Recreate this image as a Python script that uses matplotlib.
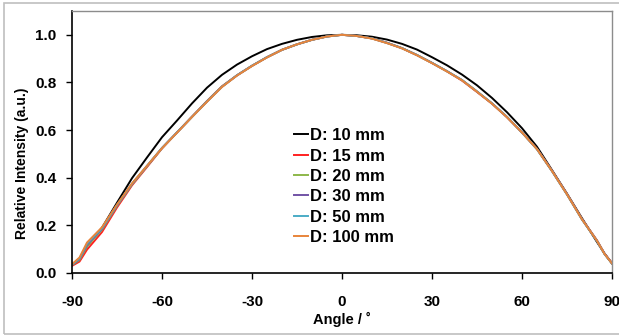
import numpy as np
import matplotlib.pyplot as plt
from matplotlib.patches import Rectangle

angle = [-90, -87.5, -85, -80, -75, -70, -65, -60, -55, -50, -45, -40, -35, -30, -25, -20, -15, -10, -5,
         0, 5, 10, 15, 20, 25, 30, 35, 40, 45, 50, 55, 60, 65, 70, 75, 80, 85, 87.5, 90]

d10 = [0.035, 0.060, 0.112, 0.190, 0.295, 0.398, 0.485, 0.570, 0.640, 0.712, 0.778, 0.832, 0.875, 0.910, 0.940,
       0.962, 0.979, 0.991, 0.998, 1.000, 0.998, 0.992, 0.980, 0.962, 0.938, 0.906, 0.872, 0.833, 0.788, 0.735,
       0.675, 0.608, 0.530, 0.432, 0.333, 0.230, 0.130, 0.082, 0.040]
d15 = [0.030, 0.048, 0.098, 0.172, 0.275, 0.368, 0.445, 0.523, 0.590, 0.656, 0.722, 0.784, 0.830, 0.870, 0.906,
       0.937, 0.960, 0.979, 0.993, 1.000, 0.995, 0.985, 0.967, 0.944, 0.915, 0.882, 0.847, 0.808, 0.760, 0.711,
       0.654, 0.590, 0.521, 0.430, 0.332, 0.227, 0.137, 0.082, 0.042]
d20 = [0.033, 0.055, 0.112, 0.182, 0.282, 0.372, 0.448, 0.524, 0.590, 0.656, 0.721, 0.783, 0.830, 0.870, 0.906,
       0.937, 0.960, 0.979, 0.993, 1.000, 0.995, 0.985, 0.966, 0.944, 0.915, 0.882, 0.847, 0.810, 0.762, 0.712,
       0.655, 0.590, 0.520, 0.428, 0.330, 0.225, 0.135, 0.080, 0.040]
d30 = [0.034, 0.058, 0.118, 0.185, 0.284, 0.374, 0.449, 0.525, 0.590, 0.656, 0.720, 0.782, 0.830, 0.870, 0.906,
       0.937, 0.960, 0.979, 0.993, 1.000, 0.995, 0.985, 0.966, 0.944, 0.915, 0.882, 0.847, 0.810, 0.762, 0.712,
       0.655, 0.590, 0.520, 0.428, 0.330, 0.225, 0.135, 0.080, 0.040]
d50 = [0.035, 0.061, 0.123, 0.188, 0.286, 0.375, 0.450, 0.525, 0.590, 0.655, 0.720, 0.782, 0.830, 0.870, 0.906,
       0.937, 0.960, 0.979, 0.993, 1.000, 0.995, 0.985, 0.966, 0.944, 0.915, 0.882, 0.847, 0.810, 0.762, 0.712,
       0.655, 0.590, 0.520, 0.428, 0.330, 0.225, 0.135, 0.080, 0.040]
d100 = [0.037, 0.065, 0.128, 0.192, 0.288, 0.376, 0.450, 0.524, 0.589, 0.655, 0.719, 0.781, 0.829, 0.869, 0.905,
        0.937, 0.960, 0.979, 0.993, 1.000, 0.995, 0.984, 0.965, 0.943, 0.914, 0.881, 0.846, 0.809, 0.761, 0.711,
        0.654, 0.590, 0.520, 0.428, 0.330, 0.225, 0.135, 0.080, 0.040]

labels = ['D: 10 mm', 'D: 15 mm', 'D: 20 mm', 'D: 30 mm', 'D: 50 mm', 'D: 100 mm']
colors = ['#000000', '#FF2020', '#8DB84A', '#7253A6', '#4BACC6', '#E8843A']
series = [d10, d15, d20, d30, d50, d100]

plt.rcParams['font.family'] = ['Liberation Sans', 'DejaVu Sans']
plt.rcParams['axes.unicode_minus'] = False

fig = plt.figure(figsize=(6.19, 3.35), dpi=100)
ax = fig.add_axes([72 / 619, 1 - 273 / 335, 540 / 619, 262 / 335])

for y, lab, c in zip(series, labels, colors):
    ax.plot(angle, y, color=c, lw=1.4, label=lab)

ax.set_xlim(-90, 90)
ax.set_ylim(0, 1.1)
ax.set_xticks(np.arange(-90, 91, 30))
ax.set_yticks(np.arange(0, 1.01, 0.2))
ax.set_yticklabels(['%.1f' % v for v in np.arange(0, 1.01, 0.2)])
ax.tick_params(direction='out', length=4, width=1, labelsize=11)
ax.tick_params(axis='x', pad=12)
ax.tick_params(axis='y', pad=7)
for t in ax.get_xticklabels() + ax.get_yticklabels():
    t.set_fontweight('bold')

for s in ['left', 'bottom']:
    ax.spines[s].set_color('black')
    ax.spines[s].set_linewidth(1.2)
for s in ['top', 'right']:
    ax.spines[s].set_color('#8C8C8C')
    ax.spines[s].set_linewidth(1.0)

ax.set_xlabel('Angle / ˚', fontsize=10.5, fontweight='bold', labelpad=2)
ax.set_ylabel('Relative Intensity (a.u.)', fontsize=10, fontweight='bold')
ax.yaxis.set_label_coords(-0.08, 0.42)

leg = ax.legend(loc='center', bbox_to_anchor=(0.504, 0.33), frameon=False,
                handlelength=0.8, handletextpad=0.15, labelspacing=0.32,
                prop={'weight': 'bold', 'size': 12})

fig.patches.append(Rectangle((4 / 619, 1 / 335), 1.0, 331 / 335, transform=fig.transFigure,
                             fill=False, edgecolor='#BFBFBF', lw=1.2))

fig.savefig('out.png', dpi=100)
